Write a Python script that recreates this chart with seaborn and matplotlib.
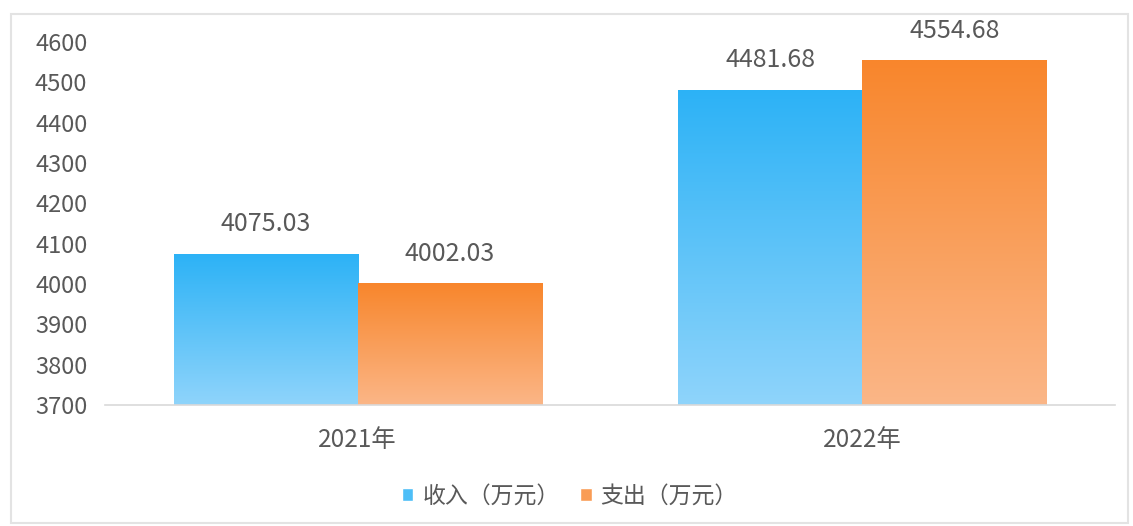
import numpy as np
import pandas as pd
import matplotlib.pyplot as plt
import seaborn as sns
from matplotlib.colors import LinearSegmentedColormap
from matplotlib.patches import Rectangle

# Data
years = ['2021年', '2022年']
series = ['收入（万元）', '支出（万元）']
income = [4075.03, 4481.68]
expense = [4002.03, 4554.68]
labels_income = ['4075.03', '4481.68']
labels_expense = ['4002.03', '4554.68']

df = pd.DataFrame({
    'year': years * 2,
    'series': [series[0]] * 2 + [series[1]] * 2,
    'value': income + expense,
})

sns.set_style('white')
plt.rcParams['font.family'] = ['Noto Sans CJK SC', 'DejaVu Sans']

# top / bottom colours of the gradients
grad = {
    series[0]: ('#2cb2f6', '#8fd4fb'),
    series[1]: ('#f8862c', '#fbb687'),
}
palette = {series[0]: '#4dbef7', series[1]: '#f99c55'}

fig = plt.figure(figsize=(11.33, 5.26), dpi=100)
ax = fig.add_axes([0.093, 0.23, 0.891, 0.69])

sns.barplot(data=df, x='year', y='value', hue='series', palette=palette,
            width=0.73, gap=0, ax=ax, saturation=1)

ax.set_ylim(3700, 4600)
ax.set_yticks(np.arange(3700, 4601, 100))
ax.set_xlabel('')
ax.set_ylabel('')

text_color = '#595959'
ax.tick_params(axis='both', length=0, colors=text_color)
ax.tick_params(axis='y', pad=13, labelsize=17)
ax.tick_params(axis='x', pad=16, labelsize=17.5)
for s in ['top', 'right', 'left']:
    ax.spines[s].set_visible(False)
ax.spines['bottom'].set_color('#d9d9d9')
ax.spines['bottom'].set_linewidth(1.2)

# gradient fill inside each bar
for cont, name, labs in zip(ax.containers, series, [labels_income, labels_expense]):
    cmap = LinearSegmentedColormap.from_list(name, [grad[name][1], grad[name][0]])
    for bar in cont:
        x0, w = bar.get_x(), bar.get_width()
        y1 = bar.get_height()
        img = ax.imshow(np.linspace(0, 1, 256).reshape(-1, 1), cmap=cmap,
                        extent=[x0, x0 + w, 3700, y1], origin='lower',
                        aspect='auto', zorder=bar.get_zorder() + 0.1)
        img.set_clip_path(bar)
    ax.bar_label(cont, labels=labs, padding=12, fontsize=18, color=text_color)

ax.set_xlim(-0.5, 1.5)
ax.set_ylim(3700, 4600)

sns.move_legend(ax, 'upper center', bbox_to_anchor=(0.46, -0.163), ncol=2,
                frameon=False, title=None, fontsize=16.5, handlelength=0.5,
                handleheight=0.5, handletextpad=0.4, columnspacing=0.9)
for t in ax.get_legend().get_texts():
    t.set_color(text_color)

# light frame around the whole picture
fig.patches.append(Rectangle((0.0097, 0.006), 0.986, 0.968, transform=fig.transFigure,
                             fill=False, edgecolor='#e3e3e3', linewidth=1.5))

plt.savefig('out.png', dpi=100)
